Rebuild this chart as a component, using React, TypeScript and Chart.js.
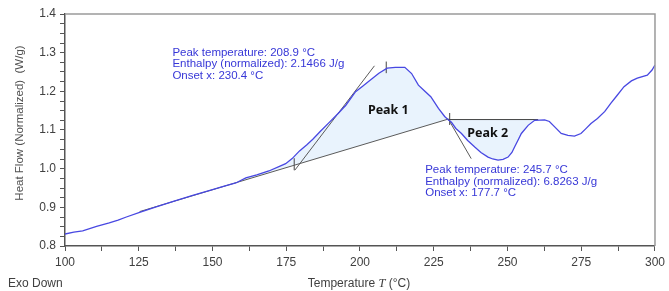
import React, { useEffect, useRef } from 'react';
import { Chart, registerables } from 'chart.js';

Chart.register(...registerables);

// ---- Data ----
const temperature = [
  100, 103, 106, 110.7, 115, 118, 120.8, 125.3, 130.9, 137, 143.3, 150, 154, 157.9, 161.3, 165, 169.1,
  172.7, 174.8, 177, 179.5, 182, 184, 186.5, 189.5, 192.5, 195.2, 198.5, 201, 203, 206.4,
  209.2, 212, 215.2, 217.5, 219.8, 222, 224, 226.6, 228.7, 230, 231, 232.5, 234.4,
  236.5, 238.9, 241, 243.4, 245, 246.8, 248.5, 250.2, 251.5, 252.4, 253.6, 254.7, 257, 259.2,
  262.6, 264.2, 266, 268.2, 270.5, 272.7, 274.9, 276.5, 278.3, 280.5, 283, 285, 287, 289.5,
  292, 294, 297.4, 299, 300,
];
const heatFlow = [
  0.831, 0.836, 0.839, 0.851, 0.86, 0.867, 0.875, 0.887, 0.901, 0.916, 0.931, 0.946, 0.955, 0.963, 0.976, 0.984, 0.994,
  1.006, 1.013, 1.026, 1.046, 1.062, 1.076, 1.096, 1.119, 1.142, 1.164, 1.199, 1.214, 1.226, 1.247,
  1.26, 1.262, 1.262, 1.246, 1.216, 1.2, 1.186, 1.156, 1.135, 1.126, 1.12, 1.104, 1.091,
  1.073, 1.056, 1.042, 1.03, 1.025, 1.022, 1.024, 1.03, 1.042, 1.056, 1.074, 1.091, 1.112, 1.125,
  1.126, 1.122, 1.108, 1.091, 1.086, 1.084, 1.091, 1.103, 1.117, 1.13, 1.148, 1.169, 1.188, 1.212,
  1.227, 1.234, 1.242, 1.255, 1.268,
];

const baseline1T = [125.3, 229.8];
const baseline1V = [0.889, 1.128];
const tangent1T = [177.9, 204.9];
const tangent1V = [0.996, 1.266];
const baseline2T = [229.8, 260.4];
const baseline2V = [1.127, 1.127];
const tangent2T = [229.8, 237.7];
const tangent2V = [1.13, 1.026];
const markerT = [177.7, 208.9, 230.4];
const markerLow = [0.996, 1.247, 1.113];
const markerHigh = [1.027, 1.277, 1.144];

const xTickLabels = [100, 125, 150, 175, 200, 225, 250, 275, 300];
const yTickLabels = [0.8, 0.9, 1.0, 1.1, 1.2, 1.3, 1.4];

const annotation1 = [
  'Peak temperature: 208.9 °C',
  'Enthalpy (normalized): 2.1466 J/g',
  'Onset x: 230.4 °C',
];
const annotation1Pos = [136.4, 1.299];
const annotation2 = [
  'Peak temperature: 245.7 °C',
  'Enthalpy (normalized): 6.8263 J/g',
  'Onset x: 177.7 °C',
];
const annotation2Pos = [222.1, 0.996];
const peakLabels = ['Peak 1', 'Peak 2'];
const peakLabelPos = [
  [209.6, 1.151],
  [243.3, 1.092],
];
const xTitle = ['Temperature ', 'T', ' (°C)'];
const yTitle = 'Heat Flow (Normalized)  (W/g)';
const cornerNote = 'Exo Down';

const SANS = '"Liberation Sans", Arial, sans-serif';

function pts(ts: number[], vs: number[]) {
  return ts.map((t, i) => ({ x: t, y: vs[i] }));
}

function regionPoints(bt: number[], bv: number[]) {
  const inside = temperature
    .map((t, i) => ({ x: t, y: heatFlow[i] }))
    .filter((p) => p.x > bt[0] && p.x < bt[bt.length - 1]);
  return [{ x: bt[0], y: bv[0] }, ...inside, { x: bt[bt.length - 1], y: bv[bv.length - 1] }];
}

function markerPoints() {
  const out: { x: number; y: number | null }[] = [];
  markerT.forEach((t, i) => {
    out.push({ x: t, y: markerLow[i] });
    out.push({ x: t, y: markerHigh[i] });
    out.push({ x: t + 0.01, y: null });
  });
  return out;
}

const textPlugin = {
  id: 'dscTexts',
  afterDraw(chart: any) {
    const { ctx, chartArea } = chart;
    const x = chart.scales.x;
    const y = chart.scales.y;
    ctx.save();
    // frame (top and right)
    ctx.strokeStyle = '#9a9a9a';
    ctx.lineWidth = 1.5;
    ctx.beginPath();
    ctx.moveTo(chartArea.left, chartArea.top);
    ctx.lineTo(chartArea.right, chartArea.top);
    ctx.lineTo(chartArea.right, chartArea.bottom);
    ctx.stroke();

    // annotations
    ctx.fillStyle = 'rgb(55,55,215)';
    ctx.font = '11.5px ' + SANS;
    ctx.textBaseline = 'middle';
    ctx.textAlign = 'left';
    const ax1 = x.getPixelForValue(annotation1Pos[0]);
    const ay1 = y.getPixelForValue(annotation1Pos[1]);
    annotation1.forEach((t, i) => ctx.fillText(t, ax1, ay1 + i * 11.2));
    const ax2 = x.getPixelForValue(annotation2Pos[0]);
    const ay2 = y.getPixelForValue(annotation2Pos[1]);
    annotation2.forEach((t, i) => ctx.fillText(t, ax2, ay2 + i * 11.5));

    // peak labels
    ctx.fillStyle = '#111';
    ctx.font = 'bold 12.5px "Noto Sans", "Open Sans", sans-serif';
    ctx.textAlign = 'center';
    peakLabels.forEach((t, i) => {
      ctx.fillText(t, x.getPixelForValue(peakLabelPos[i][0]), y.getPixelForValue(peakLabelPos[i][1]));
    });

    // x title with italic T
    ctx.fillStyle = '#404040';
    const fNorm = '12px ' + SANS;
    const fItal = 'italic 12.5px "Liberation Serif", serif';
    ctx.font = fNorm;
    const w0 = ctx.measureText(xTitle[0]).width;
    const w2 = ctx.measureText(xTitle[2]).width;
    ctx.font = fItal;
    const w1 = ctx.measureText(xTitle[1]).width;
    const total = w0 + w1 + w2;
    let cx = 359 - total / 2;
    const ty = 284;
    ctx.textAlign = 'left';
    ctx.font = fNorm;
    ctx.fillText(xTitle[0], cx, ty);
    cx += w0;
    ctx.font = fItal;
    ctx.fillText(xTitle[1], cx, ty);
    cx += w1;
    ctx.font = fNorm;
    ctx.fillText(xTitle[2], cx, ty);

    // corner note
    ctx.fillText(cornerNote, 8, ty);

    // y title
    ctx.fillStyle = '#505050';
    ctx.font = '11.5px ' + SANS;
    ctx.translate(20, 123);
    ctx.rotate(-Math.PI / 2);
    ctx.textAlign = 'center';
    ctx.fillText(yTitle, 0, 0);
    ctx.restore();
  },
};

export default function App() {
  const ref = useRef<HTMLCanvasElement | null>(null);

  useEffect(() => {
    document.body.style.margin = '0';
    if (!ref.current) return;
    const gray = '#5a5a5a';
    const chart = new Chart(ref.current, {
      type: 'line',
      data: {
        datasets: [
          {
            label: 'Heat flow',
            data: pts(temperature, heatFlow),
            borderColor: 'rgb(72,72,226)',
            borderWidth: 1.3,
            pointRadius: 0,
            fill: false,
            tension: 0,
          },
          { label: 'Baseline 1', data: pts(baseline1T, baseline1V), borderColor: gray, borderWidth: 1, pointRadius: 0, fill: false },
          { label: 'Tangent 1', data: pts(tangent1T, tangent1V), borderColor: gray, borderWidth: 1, pointRadius: 0, fill: false },
          { label: 'Baseline 2', data: pts(baseline2T, baseline2V), borderColor: '#444', borderWidth: 1, pointRadius: 0, fill: false },
          { label: 'Tangent 2', data: pts(tangent2T, tangent2V), borderColor: gray, borderWidth: 1, pointRadius: 0, fill: false },
          { label: 'Markers', data: markerPoints() as any, borderColor: '#444', borderWidth: 1, pointRadius: 0, fill: false, spanGaps: false },
          {
            label: 'Peak 1 area',
            data: regionPoints(baseline1T, baseline1V),
            borderWidth: 0,
            borderColor: 'rgba(0,0,0,0)',
            backgroundColor: 'rgb(233,243,253)',
            pointRadius: 0,
            fill: { target: 1 },
          },
          {
            label: 'Peak 2 area',
            data: regionPoints(baseline2T, baseline2V),
            borderWidth: 0,
            borderColor: 'rgba(0,0,0,0)',
            backgroundColor: 'rgb(233,243,253)',
            pointRadius: 0,
            fill: { target: 3 },
          },
        ],
      },
      options: {
        animation: false,
        responsive: false,
        devicePixelRatio: 1,
        parsing: false as any,
        normalized: true,
        layout: { padding: { top: 14, right: 11, left: 0, bottom: 0 } },
        plugins: {
          legend: { display: false },
          tooltip: { enabled: false },
          filler: { drawTime: 'beforeDatasetsDraw' },
        } as any,
        scales: {
          x: {
            type: 'linear',
            min: 100,
            max: 300,
            afterFit: (s: any) => {
              s.height = 45;
            },
            ticks: {
              stepSize: 12.5,
              autoSkip: false,
              maxRotation: 0,
              color: '#404040',
              font: { family: SANS, size: 12 },
              padding: 4,
              callback: (v: any) => (xTickLabels.includes(Number(v)) ? String(v) : ''),
            },
            grid: { drawOnChartArea: false, drawTicks: true, tickLength: 5, color: '#555', tickWidth: 1 },
            border: { color: '#555', width: 1.5 },
          },
          y: {
            type: 'linear',
            min: 0.8,
            max: 1.4,
            afterFit: (s: any) => {
              s.width = 65;
            },
            ticks: {
              stepSize: 0.025,
              autoSkip: false,
              color: '#404040',
              font: { family: SANS, size: 12 },
              padding: 4,
              callback: (v: any) => {
                const n = Number(v);
                const hit = yTickLabels.find((t) => Math.abs(t - n) < 1e-6);
                return hit !== undefined ? hit.toFixed(1) : '';
              },
            },
            grid: { drawOnChartArea: false, drawTicks: true, tickLength: 5, color: '#555', tickWidth: 1 },
            border: { color: '#555', width: 1.5 },
          },
        },
      },
      plugins: [textPlugin],
    });
    return () => chart.destroy();
  }, []);

  return (
    <div style={{ width: 669, height: 291 }}>
      <canvas ref={ref} width={669} height={291} style={{ display: 'block' }} />
    </div>
  );
}
